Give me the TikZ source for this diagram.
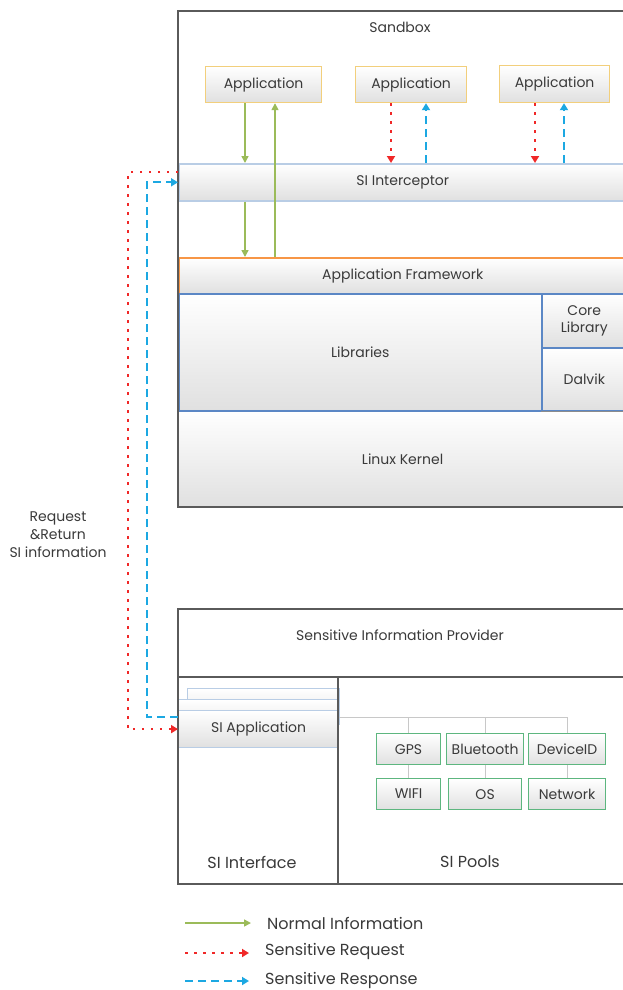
\documentclass[tikz,border=0pt]{standalone}
\usepackage{fontspec}
\setmainfont{Poppins}
\usetikzlibrary{arrows.meta,calc}

\definecolor{framegray}{HTML}{5A5A5A}
\definecolor{txt}{HTML}{3A3A3A}
\definecolor{boxlow}{HTML}{E0E0E0}
\definecolor{appline}{HTML}{F2CF7C}
\definecolor{icptline}{HTML}{B9CDE5}
\definecolor{afline}{HTML}{F79646}
\definecolor{libline}{HTML}{5B87C5}
\definecolor{kernline}{HTML}{8C8C8C}
\definecolor{poolline}{HTML}{5DB67F}
\definecolor{treeline}{HTML}{C8C8C8}
\definecolor{normgreen}{HTML}{9BBB59}
\definecolor{reqred}{HTML}{F02828}
\definecolor{resblue}{HTML}{1CA8E2}

\newcommand\lblfont{\fontsize{14}{18}\selectfont}
\newcommand\legfont{\fontsize{16}{19}\selectfont}

\tikzset{
  plate/.style={anchor=north west, inner sep=0pt, top color=white, bottom color=boxlow,
                font=\lblfont, text=txt, align=center},
  appbox/.style={plate, draw=appline, line width=1.2pt},
  icptbox/.style={plate, draw=icptline, line width=1.6pt},
  afbox/.style={plate, draw=afline, line width=1.6pt},
  libbox/.style={plate, draw=libline, line width=1.6pt},
  kernbox/.style={plate, draw=kernline, line width=1.2pt},
  poolbox/.style={plate, draw=poolline, line width=1.2pt},
  outerbox/.style={anchor=north west, inner sep=0pt, fill=white},
  outerframe/.style={draw=framegray, line width=2pt},
  lbl/.style={font=\lblfont, text=txt, inner sep=0pt, align=center},
  normalarr/.style={draw=normgreen, line width=1.5pt, -{Triangle[length=7pt,width=7pt]}},
  reqarr/.style={draw=reqred, line width=2pt, dash pattern=on 2.5pt off 6.5pt,
                 -{Triangle[length=7pt,width=8pt]}},
  resarr/.style={draw=resblue, line width=2pt, dash pattern=on 8pt off 5pt,
                 -{Triangle[length=7pt,width=8pt]}},
  treeconn/.style={draw=treeline, line width=1pt},
}

\begin{document}
\begin{tikzpicture}[x=1pt,y=-1pt]
\useasboundingbox (0,0) rectangle (623,990);
\clip (0,0) rectangle (623,990);

% ---------- upper block: the sandbox ----------
\node[outerbox, minimum width=448pt, minimum height=496pt] (sandbox) at (178,11) {};
\node[lbl] (sbtitle) at (400,27) {Sandbox};

\node[appbox, minimum width=116pt, minimum height=36pt] (app1) at (205,66) {Application};
\node[appbox, minimum width=111pt, minimum height=36pt] (app2) at (355,66) {Application};
\node[appbox, minimum width=110pt, minimum height=37pt] (app3) at (499,65) {Application};

\node[icptbox, minimum width=448pt, minimum height=37pt] (icpt) at (178,163) {SI Interceptor};
\node[afbox, minimum width=448pt, minimum height=36pt] (af) at (178,257) {Application Framework};

\node[kernbox, minimum width=448pt, minimum height=97pt] (kernel) at (178,410) {Linux Kernel};
\node[libbox, minimum width=363pt, minimum height=117pt] (libs) at (178,293) {Libraries};
\node[plate, draw=libline, line width=1.6pt, minimum width=85pt, minimum height=54pt] (core) at (541,293) {Core\\[-1pt]Library};
\node[plate, draw=libline, line width=1.6pt, minimum width=85pt, minimum height=63pt] (dalvik) at (541,347) {Dalvik};
\draw[kernline, line width=1.2pt] (dalvik.south west) -- (dalvik.south east);

\draw[outerframe] (sandbox.south east) -- (sandbox.south west) -- (sandbox.north west) -- (sandbox.north east);

% x positions of the vertical links
\coordinate (g1) at (245,0);
\coordinate (g2) at (275,0);
\coordinate (r2) at (391,0);
\coordinate (b2) at (426,0);
\coordinate (r3) at (535,0);
\coordinate (b3) at (564,0);
\coordinate (redx) at (128,0);
\coordinate (bluex) at (147,0);

\draw[normalarr] (app1.south -| g1) -- (icpt.north -| g1);
\draw[normalarr] (icpt.south -| g1) -- (af.north -| g1);
\draw[normalarr] (af.north -| g2) -- (app1.south -| g2);
\draw[reqarr] (app2.south -| r2) -- (icpt.north -| r2);
\draw[resarr] (icpt.north -| b2) -- (app2.south -| b2);
\draw[reqarr] (app3.south -| r3) -- (icpt.north -| r3);
\draw[resarr] (icpt.north -| b3) -- (app3.south -| b3);

% ---------- lower block: the provider ----------
\node[outerbox, minimum width=448pt, minimum height=275pt] (provider) at (178,609) {};
\node[lbl] (provtitle) at (400,635) {Sensitive Information Provider};
\node[outerbox, minimum width=160pt, minimum height=207pt] (siif) at (178,677) {};
\node[lbl, font=\legfont] (siiftitle) at (252,862) {SI Interface};
\node[lbl, font=\legfont] (pooltitle) at (470,862) {SI Pools};

\node[icptbox, line width=1.2pt, minimum width=152pt, minimum height=36pt] (siappc) at (187,688) {};
\node[icptbox, line width=1.2pt, minimum width=160pt, minimum height=36pt] (siappb) at (178,699) {};
\node[icptbox, line width=1.2pt, minimum width=160pt, minimum height=37pt] (siapp) at (178,710) {SI Application};

\node[poolbox, minimum width=64pt, minimum height=31pt] (gps) at (376,733) {GPS};
\node[poolbox, minimum width=77pt, minimum height=31pt] (bt) at (446,733) {Bluetooth};
\node[poolbox, minimum width=77pt, minimum height=31pt] (devid) at (528,733) {DeviceID};
\node[poolbox, minimum width=64pt, minimum height=31pt] (wifi) at (376,778) {WIFI};
\node[poolbox, minimum width=73pt, minimum height=31pt] (os) at (448,778) {OS};
\node[poolbox, minimum width=77pt, minimum height=31pt] (net) at (528,778) {Network};

\coordinate (treey) at (0,717);
\draw[treeconn] (siapp.east |- treey) -| (devid.north);
\draw[treeconn] (gps.north |- treey) -- (gps.north);
\draw[treeconn] (bt.north |- treey) -- (bt.north);
\draw[treeconn] (gps.south) -- (wifi.north);
\draw[treeconn] (bt.south) -- (os.north);
\draw[treeconn] (devid.south) -- (net.north);

\draw[outerframe] (provider.south east) -- (provider.south west) -- (provider.north west) -- (provider.north east);
\draw[outerframe] (siif.north west) -- (siif.north east -| provider.east);
\draw[outerframe] (siif.north east) -- (siif.south east);

% ---------- request / return loop ----------
\draw[reqarr] ($(icpt.north west)+(0,9)$) -| (redx |- siapp.west) -- (siapp.west);
\draw[resarr] ($(siapp.north west)+(0,7)$) -| (bluex |- icpt.west) -- (icpt.west);
\node[lbl] (looplabel) at (58,535) {Request\\\&Return\\SI information};

% ---------- legend ----------
\coordinate (la1) at (185,923); \coordinate (lb1) at (251,923);
\coordinate (la2) at (185,953); \coordinate (lb2) at (249,953);
\coordinate (la3) at (185,981); \coordinate (lb3) at (249,981);
\draw[normalarr] (la1) -- (lb1);
\draw[reqarr] (la2) -- (lb2);
\draw[resarr] (la3) -- (lb3);
\node[lbl, anchor=west, font=\legfont] (leg1) at (267,923) {Normal Information};
\node[lbl, anchor=west, font=\legfont] (leg2) at (265,951) {Sensitive Request};
\node[lbl, anchor=west, font=\legfont] (leg3) at (265,980) {Sensitive Response};
\end{tikzpicture}
\end{document}
